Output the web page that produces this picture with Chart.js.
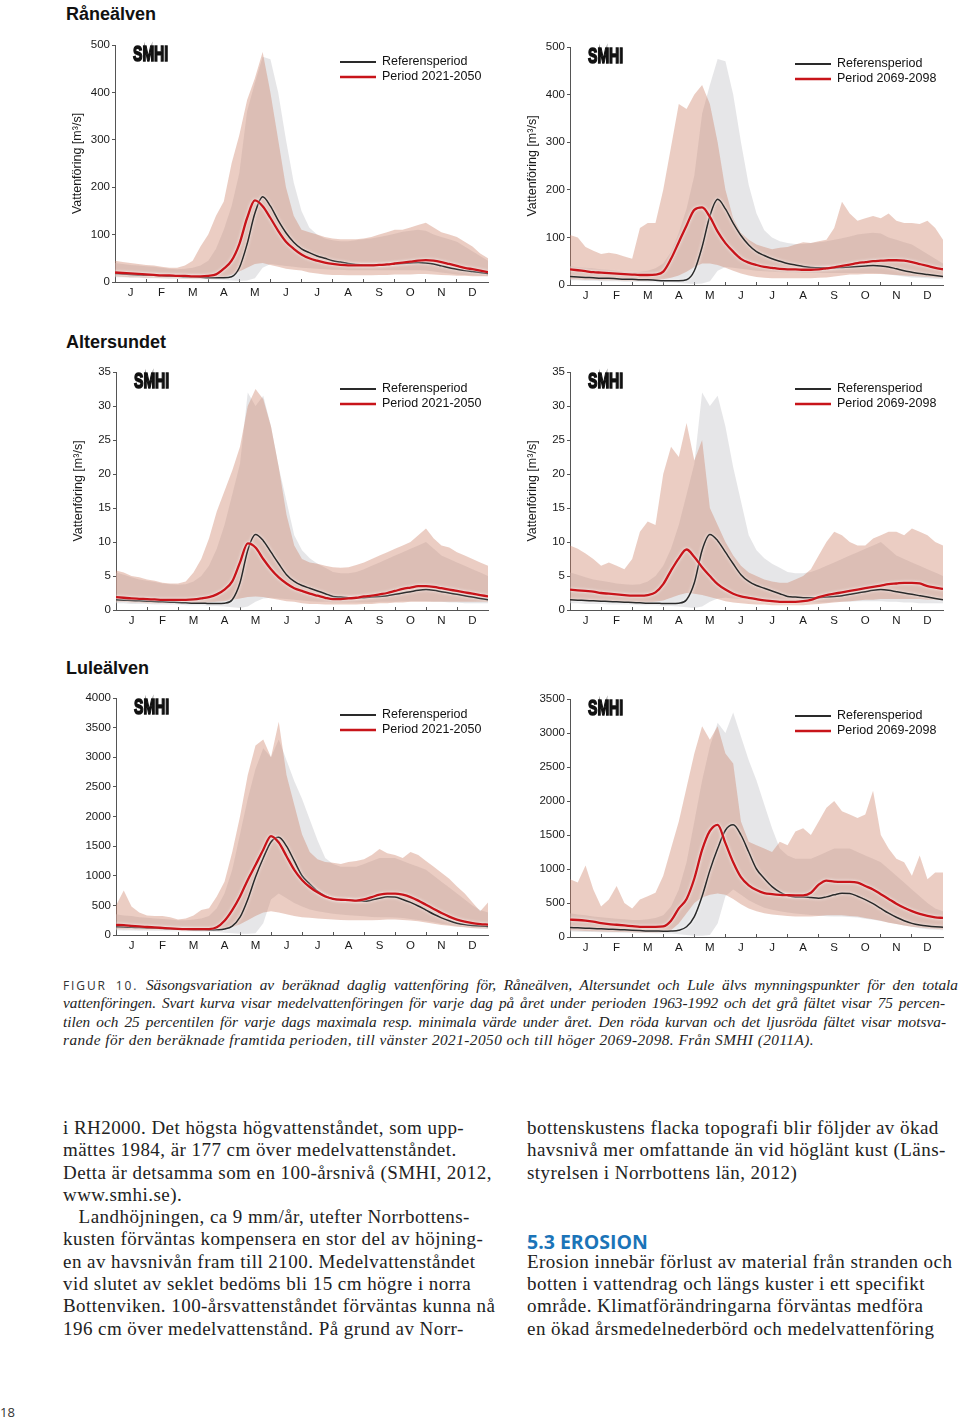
<!DOCTYPE html>
<html lang="sv">
<head>
<meta charset="utf-8">
<title>Säsongsvariation av vattenföring</title>
<script src="https://cdn.jsdelivr.net/npm/chart.js@4.4.1/dist/chart.umd.min.js"></script>
<style>
  html, body { margin:0; padding:0; background:#fff; }
  body { position:relative; width:960px; height:1420px; overflow:hidden; color:#222; }
  canvas { position:absolute; }
  .river { position:absolute; font:bold 18px "Liberation Sans", Arial, sans-serif; line-height:18px; color:#111; white-space:nowrap; }
  .cap { position:absolute; left:63px; top:976px; font:italic 15.3px "Liberation Serif", "Times New Roman", serif; line-height:18.4px; color:#222; }
  .cap .cl { white-space:nowrap; }
  .cap .j { text-align:justify; text-align-last:justify; }
  .fig { font:normal 12px "Open Sans", "Liberation Sans", sans-serif; letter-spacing:1.9px; color:#333; }
  .col { position:absolute; top:1117px; font:19px "Liberation Serif", "Times New Roman", serif; letter-spacing:0.45px; line-height:22.3px; color:#222; }
  .col div { white-space:nowrap; height:22.3px; }
  .head { font:bold 19.5px "Open Sans", "Liberation Sans", sans-serif; letter-spacing:0; color:#1b74b8; }
  .pg { position:absolute; left:0; top:1403px; font:13px "Open Sans", sans-serif; color:#333; }
</style>
</head>
<body>

<div class="river" style="left:66px; top:5px;">Råneälven</div>
<div class="river" style="left:66px; top:333px;">Altersundet</div>
<div class="river" style="left:66px; top:659px;">Luleälven</div>

<canvas id="c1"></canvas>
<canvas id="c2"></canvas>
<canvas id="c3"></canvas>
<canvas id="c4"></canvas>
<canvas id="c5"></canvas>
<canvas id="c6"></canvas>

<div class="cap">
  <div class="cl j" style="width:895px"><span class="fig">FIGUR 10.</span> Säsongsvariation av beräknad daglig vattenföring för, Råneälven, Altersundet och Lule älvs mynningspunkter för den totala</div>
  <div class="cl j" style="width:882px">vattenföringen. Svart kurva visar medelvattenföringen för varje dag på året under perioden 1963-1992 och det grå fältet visar 75 percen-</div>
  <div class="cl j" style="width:883px">tilen och 25 percentilen för varje dags maximala resp. minimala värde under året. Den röda kurvan och det ljusröda fältet visar motsva-</div>
  <div class="cl" style="letter-spacing:0.45px">rande för den beräknade framtida perioden, till vänster 2021-2050 och till höger 2069-2098. Från SMHI (2011A).</div>
</div>

<div class="col" style="left:63px;">
  <div>i RH2000. Det högsta högvattenståndet, som upp-</div>
  <div>mättes 1984, är 177 cm över medelvattenståndet.</div>
  <div>Detta är detsamma som en 100-årsnivå (SMHI, 2012,</div>
  <div>www.smhi.se).</div>
  <div>&nbsp;&nbsp;&nbsp;Landhöjningen, ca 9 mm/år, utefter Norrbottens-</div>
  <div>kusten förväntas kompensera en stor del av höjning-</div>
  <div>en av havsnivån fram till 2100. Medelvattenståndet</div>
  <div>vid slutet av seklet bedöms bli 15 cm högre i norra</div>
  <div>Bottenviken. 100-årsvattenståndet förväntas kunna nå</div>
  <div>196 cm över medelvattenstånd. På grund av Norr-</div>
</div>

<div class="col" style="left:527px;">
  <div>bottenskustens flacka topografi blir följder av ökad</div>
  <div>havsnivå mer omfattande än vid höglänt kust (Läns-</div>
  <div>styrelsen i Norrbottens län, 2012)</div>
  <div></div>
  <div></div>
  <div class="head">5.3 EROSION</div>
  <div>Erosion innebär förlust av material från stranden och</div>
  <div>botten i vattendrag och längs kuster i ett specifikt</div>
  <div>område. Klimatförändringarna förväntas medföra</div>
  <div>en ökad årsmedelnederbörd och medelvattenföring</div>
</div>

<div class="pg">18</div>

<script>
// ---------- DATA ----------
// x positions in months (0 = 1 Jan, 12 = 31 Dec), quarter-month steps
const MONTH_POS = [0,0.25,0.5,0.75,1,1.25,1.5,1.75,2,2.25,2.5,2.75,3,3.25,3.5,3.75,4,4.25,4.5,4.75,5,5.25,5.5,5.75,6,6.25,6.5,6.75,7,7.25,7.5,7.75,8,8.25,8.5,8.75,9,9.25,9.5,9.75,10,10.25,10.5,10.75,11,11.25,11.5,11.75,12];
const MONTH_LABELS = ['J','F','M','A','M','J','J','A','S','O','N','D'];
const LABEL_REF = 'Referensperiod';
const LABEL_P1 = 'Period 2021-2050';
const LABEL_P2 = 'Period 2069-2098';
const Y_TITLE = 'Vattenföring [m³/s]';

// Råneälven
const RANE_REF_MEAN = [18,17,16,15, 14,14,13,12, 12,11,11,10, 9,9,9,11, 30,80,145,180, 160,130,104,84, 70,62,55,50, 45,42,39,37, 36,36,36,37, 38,39,40,41, 40,38,34,30, 27,24,22,20, 18];
const RANE_REF_HI   = [40,38,36,35, 33,32,30,28, 27,28,30,35, 45,70,110,160, 230,360,420,475, 470,400,300,210, 150,115,100,92, 88,86,86,88, 90,92,95,98, 102,106,108,110, 108,100,95,90, 85,75,65,55, 45];
const RANE_REF_LO   = [10,10,9,9, 8,8,8,7, 7,7,6,6, 6,5,4,3, 2,3,8,30, 38,36,34,32, 30,29,28,27, 26,26,25,25, 25,25,25,25, 25,25,25,25, 24,22,20,18, 16,15,14,13, 12];
const RANE_P1_MEAN  = [20,19,18,17, 16,15,14,14, 13,13,12,12, 13,16,28,45, 80,135,172,160, 135,108,85,70, 58,50,45,41, 38,36,35,35, 35,35,36,37, 39,41,43,45, 46,45,42,38, 34,30,27,24, 21];
const RANE_P1_HI    = [45,42,40,38, 36,35,32,30, 30,35,45,75, 100,140,170,250, 310,384,430,485, 400,300,200,140, 110,105,100,95, 92,90,90,90, 92,95,100,105, 110,110,115,120, 125,115,105,100, 95,85,75,60, 50];
const RANE_P1_LO    = [12,11,10,10, 9,9,8,8, 8,7,7,7, 7,8,10,15, 22,30,38,40, 36,32,28,26, 24,20,18,16, 15,15,14,14, 14,14,15,15, 16,16,16,17, 17,16,15,14, 13,13,12,12, 12];
const RANE_P2_MEAN  = [33,31,29,27, 26,25,24,23, 22,21,21,22, 28,55,90,125, 158,163,143,112, 88,70,55,47, 42,38,36,34, 33,33,32,32, 33,35,37,40, 43,46,48,50, 51,52,52,51, 48,44,40,36, 33];
const RANE_P2_HI    = [105,100,80,72, 65,68,65,60, 55,120,130,130, 200,290,380,370, 400,420,380,300, 200,140,110,95, 85,80,75,78, 80,85,90,88, 92,95,120,175, 150,135,140,145, 140,150,135,130, 130,128,135,120, 95];
const RANE_P2_LO    = [12,12,11,11, 10,10,10,9, 9,9,9,10, 12,15,20,28, 38,45,45,42, 36,30,24,20, 17,15,14,14, 14,14,14,14, 15,16,18,20, 22,22,23,23, 23,22,21,20, 19,18,17,16, 15];

// Altersundet
const ALT_REF_MEAN = [1.5,1.45,1.4,1.35, 1.3,1.25,1.2,1.15, 1.1,1.05,1.0,1.0, 0.95,0.95,1.0,1.5, 4.0,8.8,11.1,10.2, 8.5,6.8,5.2,4.2, 3.6,3.2,2.8,2.4, 2.0,1.9,1.8,1.8, 1.8,1.9,2.0,2.1, 2.3,2.5,2.7,2.9, 3.0,2.9,2.7,2.5, 2.3,2.1,1.9,1.7, 1.5];
const ALT_REF_HI   = [5.5,5.2,4.8,4.5, 4.3,4.1,3.9,3.8, 3.7,3.8,4.2,5.0, 6.5,9.0,12.5,17, 21.5,32,30,31.5, 27,21,16,11, 8.8,7.6,6.8,6.2, 5.6,5.4,5.4,5.6, 6.0,6.5,7.0,7.5, 8.0,8.5,9.0,9.5, 10.0,9.0,8.0,7.5, 7.0,6.5,6.0,5.5, 5.0];
const ALT_REF_LO   = [1.0,1.0,0.9,0.9, 0.9,0.8,0.8,0.8, 0.8,0.7,0.7,0.7, 0.6,0.6,0.5,0.4, 0.3,0.5,1.2,1.7, 1.8,1.7,1.6,1.5, 1.4,1.3,1.2,1.2, 1.1,1.1,1.1,1.1, 1.1,1.1,1.2,1.2, 1.2,1.3,1.3,1.3, 1.3,1.2,1.2,1.1, 1.1,1.0,1.0,1.0, 1.0];
const ALT_P1_MEAN  = [1.9,1.8,1.7,1.65, 1.6,1.55,1.5,1.5, 1.5,1.5,1.55,1.7, 1.9,2.3,3.0,4.2, 7.0,9.8,9.2,7.5, 6.0,4.8,3.9,3.2, 2.8,2.4,2.1,1.8, 1.6,1.6,1.7,1.8, 2.0,2.1,2.3,2.5, 2.8,3.1,3.3,3.5, 3.5,3.4,3.2,3.0, 2.8,2.6,2.4,2.2, 2.0];
const ALT_P1_HI    = [5.8,5.5,5.0,4.8, 4.5,4.3,4.0,3.9, 3.9,4.2,5.5,7.5, 10.5,14.5,17.5,20.5, 24,30,32.5,31, 27,21,14,9.5, 7.5,7.0,6.8,6.5, 6.3,6.2,6.3,6.6, 7.0,7.5,8.0,8.5, 9.0,9.5,10.0,11.0, 12.0,10.5,9.5,9.2, 8.5,8.0,7.5,7.0, 6.5];
const ALT_P1_LO    = [1.2,1.2,1.1,1.1, 1.0,1.0,1.0,1.0, 1.0,1.0,1.0,1.0, 1.1,1.2,1.3,1.5, 1.7,1.9,2.0,1.9, 1.7,1.5,1.3,1.2, 1.0,0.9,0.9,0.8, 0.8,0.8,0.8,0.8, 0.9,0.9,1.0,1.0, 1.1,1.1,1.2,1.2, 1.2,1.2,1.2,1.2, 1.2,1.2,1.2,1.2, 1.2];
const ALT_P2_MEAN  = [3.0,2.9,2.8,2.7, 2.5,2.4,2.3,2.2, 2.1,2.1,2.2,2.6, 3.8,5.8,7.6,8.9, 7.8,6.3,5.0,3.8, 3.0,2.4,2.0,1.8, 1.6,1.4,1.3,1.2, 1.2,1.2,1.3,1.5, 1.9,2.2,2.4,2.6, 2.8,3.0,3.2,3.4, 3.6,3.8,3.9,4.0, 4.0,3.9,3.5,3.3, 3.1];
const ALT_P2_HI    = [9.5,9.0,8.3,7.5, 6.5,7.0,6.5,6.0, 7.5,11.5,13.0,12.5, 20,24,22.5,27.5, 22,25,15,12.5, 10,8.0,6.5,5.5, 5.0,4.5,4.2,4.0, 4.0,4.5,5.0,6.0, 8.0,10.0,11.5,11.0, 10.0,9.5,9.5,10.5, 11.0,11.5,11.5,11.0, 12.0,11.5,11.0,10.0, 9.5];
const ALT_P2_LO    = [1.4,1.4,1.3,1.3, 1.2,1.2,1.2,1.1, 1.1,1.1,1.1,1.2, 1.4,1.8,2.2,2.5, 2.4,2.2,1.9,1.6, 1.3,1.1,1.0,0.9, 0.8,0.8,0.7,0.7, 0.7,0.7,0.7,0.8, 0.9,1.0,1.1,1.2, 1.3,1.4,1.5,1.5, 1.6,1.6,1.6,1.6, 1.6,1.6,1.5,1.5, 1.5];

// Luleälven
const LULE_REF_MEAN = [140,135,130,125, 120,115,110,105, 100,95,90,88, 85,88,100,150, 300,600,980,1300, 1570,1650,1500,1250, 1000,860,740,660, 610,590,590,580, 570,590,620,645, 640,600,550,490, 420,350,290,240, 200,175,160,150, 145];
const LULE_REF_HI   = [350,330,320,300, 290,280,270,260, 250,250,260,280, 320,450,700,1100, 1700,2300,2800,3150, 3000,3300,2950,2600, 2300,1950,1600,1300, 1200,1150,1150,1150, 1200,1250,1300,1300, 1300,1250,1200,1150, 1100,1000,900,800, 700,600,500,420, 380];
const LULE_REF_LO   = [80,78,75,72, 70,68,66,64, 62,60,58,56, 55,50,40,30, 20,20,30,200, 600,700,620,540, 480,430,400,380, 360,345,335,325, 315,305,300,300, 295,285,270,255, 235,215,190,170, 150,130,115,105, 100];
const LULE_P1_MEAN  = [170,165,155,145, 135,128,120,112, 105,100,98,98, 100,130,240,420, 650,930,1180,1440, 1670,1560,1330,1100, 930,810,720,650, 610,595,590,580, 600,640,680,700, 700,680,640,580, 510,440,370,310, 260,225,200,185, 175];
const LULE_P1_HI    = [500,750,480,380, 330,320,320,300, 260,280,330,420, 450,650,900,1400, 2000,2700,3200,3300, 3000,3600,2700,2200, 1700,1400,1280,1230, 1220,1200,1230,1250, 1280,1350,1450,1380, 1350,1300,1400,1350, 1250,1150,1050,950, 820,700,550,400, 550];
const LULE_P1_LO    = [100,98,95,92, 90,88,86,84, 82,80,80,80, 80,85,100,130, 180,250,320,380, 400,380,350,320, 300,290,280,270, 260,255,250,250, 250,250,255,260, 260,255,245,230, 210,190,170,155, 140,130,120,115, 110];
const LULE_P2_MEAN  = [255,250,240,225, 205,190,180,170, 160,150,148,148, 155,240,420,560, 860,1280,1560,1650, 1380,1100,880,760, 690,645,630,620, 615,612,613,650, 770,830,815,810, 810,800,750,700, 630,560,490,430, 380,340,310,290, 280];
const LULE_P2_HI    = [850,800,1050,700, 450,550,750,500, 420,550,600,650, 900,1300,1700,2200, 2700,3100,2900,3100, 2700,2550,1700,1400, 1350,1300,1250,1400, 1350,1550,1600,1500, 1700,1900,2000,1850, 1800,1750,1800,2150, 1500,1300,1150,1100, 900,1200,850,950, 950];
const LULE_P2_LO    = [100,95,90,85, 80,78,75,72, 70,68,66,65, 70,100,200,350, 500,580,620,640, 620,560,480,420, 380,350,330,320, 310,300,300,300, 310,320,320,320, 310,300,280,260, 240,210,190,170, 150,140,130,120, 115];

// ---------- STYLE ----------
const COL_REF_LINE = '#2a2a2a';
const COL_FUT_LINE = '#c8141a';
const COL_REF_BAND = 'rgba(200,200,205,0.45)';
const COL_FUT_BAND = 'rgba(205,130,105,0.40)';

Chart.defaults.font.family = '"Liberation Sans", Arial, sans-serif';
Chart.defaults.color = '#1a1a1a';

const pts = (vals) => vals.map((v, i) => ({ x: MONTH_POS[i], y: v }));

const decor = {
  id: 'decor',
  beforeDatasetDraw(chart, args) {
    const ds = chart.data.datasets[args.index];
    if (ds.halo) {
      const c = chart.ctx;
      c.save();
      c.shadowColor = 'rgba(255,255,255,0.95)';
      c.shadowBlur = 3;
    }
  },
  afterDatasetDraw(chart, args) {
    const ds = chart.data.datasets[args.index];
    if (ds.halo) chart.ctx.restore();
  },
  afterDraw(chart) {
    const a = chart.chartArea;
    const c = chart.ctx;
    // legend
    const items = chart.data.datasets.filter(d => d.legendRow !== undefined)
      .sort((p, q) => p.legendRow - q.legendRow);
    c.save();
    c.font = '12.5px "Liberation Sans", Arial, sans-serif';
    c.textBaseline = 'middle';
    c.fillStyle = '#111';
    items.forEach(d => {
      const y = a.top + 17 + d.legendRow * 15;
      c.strokeStyle = d.borderColor;
      c.lineWidth = d.borderWidth + 0.3;
      c.beginPath();
      c.moveTo(a.right - 148, y);
      c.lineTo(a.right - 112, y);
      c.stroke();
      c.fillText(d.label, a.right - 106, y);
    });
    // SMHI logo
    c.translate(a.left + 18, a.top + 9);
    c.scale(0.64, 1);
    c.font = 'bold 22px "Liberation Sans Narrow", "Liberation Sans", sans-serif';
    c.fillStyle = '#111';
    c.strokeStyle = '#111';
    c.lineWidth = 1.6;
    c.textBaseline = 'middle';
    c.fillText('SMHI', 0, 1);
    c.strokeText('SMHI', 0, 1);
    c.restore();
  }
};

function makeChart(id, box, yMax, yStep, showTitle, ref, fut, futLabel) {
  const cv = document.getElementById(id);
  const yAxisW = 60, xAxisH = 28, padTop = 10, padRight = 12;
  const left = box[0] - yAxisW, top = box[1] - padTop;
  const w = box[2] + padRight - left, h = box[3] + xAxisH - top;
  cv.style.left = left + 'px';
  cv.style.top = top + 'px';
  cv.width = w; cv.height = h;
  cv.style.width = w + 'px'; cv.style.height = h + 'px';

  const bandBase = { pointRadius: 0, borderWidth: 0, borderColor: 'rgba(0,0,0,0)', tension: 0 };
  new Chart(cv, {
    type: 'line',
    data: {
      datasets: [
        { label: futLabel, data: pts(fut[0]), borderColor: COL_FUT_LINE, borderWidth: 2.3,
          pointRadius: 0, fill: false, cubicInterpolationMode: 'monotone', halo: true, legendRow: 1 },
        { label: LABEL_REF, data: pts(ref[0]), borderColor: COL_REF_LINE, borderWidth: 1.5,
          pointRadius: 0, fill: false, cubicInterpolationMode: 'monotone', halo: true, legendRow: 0 },
        Object.assign({ label: futLabel + ' max', data: pts(fut[1]), fill: '+1', backgroundColor: COL_FUT_BAND }, bandBase),
        Object.assign({ label: futLabel + ' min', data: pts(fut[2]), fill: false }, bandBase),
        Object.assign({ label: LABEL_REF + ' max', data: pts(ref[1]), fill: '+1', backgroundColor: COL_REF_BAND }, bandBase),
        Object.assign({ label: LABEL_REF + ' min', data: pts(ref[2]), fill: false }, bandBase)
      ]
    },
    options: {
      responsive: false,
      animation: false,
      devicePixelRatio: 1,
      layout: { padding: { top: padTop, right: padRight, left: 0, bottom: 0 } },
      plugins: { legend: { display: false }, tooltip: { enabled: false } },
      scales: {
        x: {
          type: 'linear', min: 0, max: 12,
          border: { color: '#555', width: 1 },
          grid: {
            drawOnChartArea: false, tickLength: -3, lineWidth: 1,
            color: (ctx) => (ctx.tick && Number.isInteger(ctx.tick.value) && ctx.tick.value > 0 && ctx.tick.value < 12) ? '#555' : 'rgba(0,0,0,0)'
          },
          ticks: {
            stepSize: 0.5, autoSkip: false, maxRotation: 0, padding: 7,
            color: '#1a1a1a', font: { size: 11.5 },
            callback: (v) => Number.isInteger(v) ? '' : MONTH_LABELS[Math.floor(v)]
          },
          afterFit: (s) => { s.height = xAxisH; }
        },
        y: {
          min: 0, max: yMax,
          border: { color: '#555', width: 1 },
          grid: { drawOnChartArea: false, tickLength: 3, color: '#555' },
          ticks: { stepSize: yStep, padding: 2, color: '#1a1a1a', font: { size: 11.5 },
                   callback: (v) => String(v) },
          title: { display: showTitle, text: Y_TITLE, color: '#1a1a1a', font: { size: 12.5 }, padding: { top: 15, bottom: 0 } },
          afterFit: (s) => { s.width = yAxisW; }
        }
      }
    },
    plugins: [decor]
  });
}

makeChart('c1', [115, 45, 488, 282], 500, 100, true,
  [RANE_REF_MEAN, RANE_REF_HI, RANE_REF_LO], [RANE_P1_MEAN, RANE_P1_HI, RANE_P1_LO], LABEL_P1);
makeChart('c2', [570, 47, 943, 285], 500, 100, true,
  [RANE_REF_MEAN, RANE_REF_HI, RANE_REF_LO], [RANE_P2_MEAN, RANE_P2_HI, RANE_P2_LO], LABEL_P2);
makeChart('c3', [116, 372, 488, 610], 35, 5, true,
  [ALT_REF_MEAN, ALT_REF_HI, ALT_REF_LO], [ALT_P1_MEAN, ALT_P1_HI, ALT_P1_LO], LABEL_P1);
makeChart('c4', [570, 372, 943, 610], 35, 5, true,
  [ALT_REF_MEAN, ALT_REF_HI, ALT_REF_LO], [ALT_P2_MEAN, ALT_P2_HI, ALT_P2_LO], LABEL_P2);
makeChart('c5', [116, 698, 488, 935], 4000, 500, false,
  [LULE_REF_MEAN, LULE_REF_HI, LULE_REF_LO], [LULE_P1_MEAN, LULE_P1_HI, LULE_P1_LO], LABEL_P1);
makeChart('c6', [570, 699, 943, 937], 3500, 500, false,
  [LULE_REF_MEAN, LULE_REF_HI, LULE_REF_LO], [LULE_P2_MEAN, LULE_P2_HI, LULE_P2_LO], LABEL_P2);
</script>
</body>
</html>
